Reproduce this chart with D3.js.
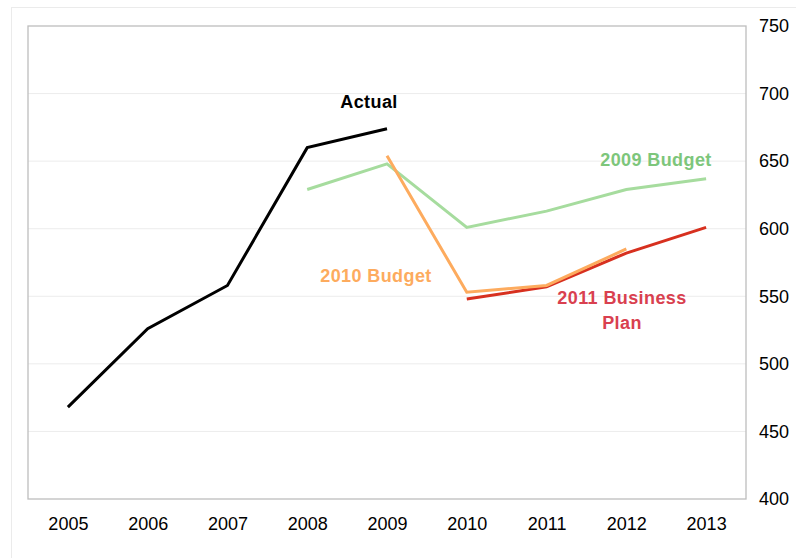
<!DOCTYPE html>
<html>
<head>
<meta charset="utf-8">
<script src="https://cdn.jsdelivr.net/npm/d3@7"></script>
<style>
  body { margin: 0; background: #fff; }
  svg { font-family: "Liberation Sans", Arial, sans-serif; }
</style>
</head>
<body>
<svg id="chart" width="796" height="558"></svg>
<script>
// chart values
var years = ["2005", "2006", "2007", "2008", "2009", "2010", "2011", "2012", "2013"];
var yTicks = [400, 450, 500, 550, 600, 650, 700, 750];
var actual = [468, 526, 558, 660, 674, null, null, null, null];
var budget2009 = [null, null, null, 629, 648, 601, 613, 629, 637];
var budget2010 = [null, null, null, null, 654, 553, 558, 585, null];
var plan2011 = [null, null, null, null, null, 548, 557, 582, 601];

var margin = { top: 26, right: 50, bottom: 59, left: 28 },
  w = 796 - margin.left - margin.right,
  h = 558 - margin.top - margin.bottom;

var svg = d3.select("#chart");

// outer chart frame
svg.append("rect")
  .attr("x", 11.5).attr("y", 7.5)
  .attr("width", 800).attr("height", 560)
  .attr("fill", "none")
  .attr("stroke", "#ebebeb");

var g = svg.append("g")
  .attr("transform", `translate(${margin.left}, ${margin.top})`);

var x_scale = d3.scalePoint().domain(years).range([0, w]).padding(0.5);
var y_scale = d3.scaleLinear().domain([400, 750]).range([h, 0]);

// grid
g.selectAll(".grid")
  .data(yTicks.slice(1, -1))
  .join("line")
  .attr("class", "grid")
  .attr("x1", 0).attr("x2", w)
  .attr("y1", d => y_scale(d)).attr("y2", d => y_scale(d))
  .attr("stroke", "#ececec");

g.append("rect")
  .attr("width", w).attr("height", h)
  .attr("fill", "none")
  .attr("stroke", "#bdbdbd")
  .attr("stroke-width", 1.3);

var xAxis = g.append("g")
  .attr("transform", `translate(0, ${h})`)
  .call(d3.axisBottom(x_scale).tickSize(0).tickPadding(18));
xAxis.select(".domain").remove();
xAxis.selectAll("text").style("font-size", "18px").attr("fill", "#000");

var yAxis = g.append("g")
  .attr("transform", `translate(${w}, 0)`)
  .call(d3.axisRight(y_scale).tickValues(yTicks).tickSize(0).tickPadding(13));
yAxis.select(".domain").remove();
yAxis.selectAll("text").style("font-size", "18px").attr("fill", "#000");

var series = [
  { name: "2009 Budget", values: budget2009, color: "#a6dc9e" },
  { name: "2011 Business Plan", values: plan2011, color: "#d7301f" },
  { name: "2010 Budget", values: budget2010, color: "#fdab5e" },
  { name: "Actual", values: actual, color: "#000000" }
];

var line = d3.line()
  .defined(d => d.v != null)
  .x(d => x_scale(d.year))
  .y(d => y_scale(d.v));

g.selectAll(".series")
  .data(series)
  .join("path")
  .attr("class", "series")
  .attr("d", s => line(years.map((year, i) => ({ year: year, v: s.values[i] }))))
  .attr("fill", "none")
  .attr("stroke", s => s.color)
  .attr("stroke-width", 3);

// direct labels
var labels = [
  { lines: ["Actual"], x: 341, y: 82, color: "#000000" },
  { lines: ["2009 Budget"], x: 628, y: 140, color: "#7dc67b" },
  { lines: ["2010 Budget"], x: 348, y: 256, color: "#fdab5e" },
  { lines: ["2011 Business", "Plan"], x: 594, y: 278, color: "#d9404f" }
];

labels.forEach(l => {
  var t = g.append("text")
    .attr("x", l.x).attr("y", l.y)
    .attr("text-anchor", "middle")
    .attr("fill", l.color)
    .style("font-size", "18px")
    .style("font-weight", "bold")
    .style("letter-spacing", "0.4px");
  l.lines.forEach((s, i) => {
    t.append("tspan").attr("x", l.x).attr("dy", i ? 25 : 0).text(s);
  });
});
</script>
</body>
</html>
